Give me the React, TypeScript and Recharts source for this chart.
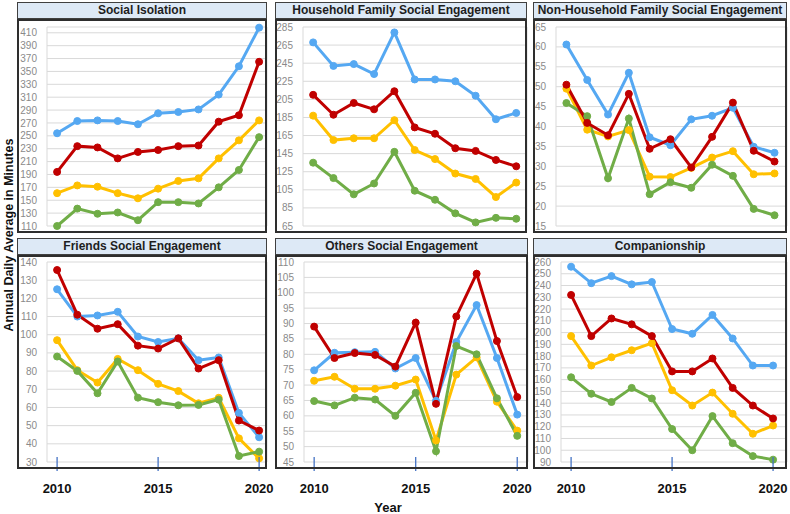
import React from 'react';
import { LineChart, Line, XAxis, YAxis, CartesianGrid } from 'recharts';

const years = [2010, 2011, 2012, 2013, 2014, 2015, 2016, 2017, 2018, 2019, 2020];
const gridTicks = [2009.5, 2010.5, 2011.5, 2012.5, 2013.5, 2014.5, 2015.5, 2016.5, 2017.5, 2018.5, 2019.5];
const yearLabels = [2010, 2015, 2020];

const isolationBlue = [254, 273, 274, 273, 268, 285, 287, 291, 314, 358, 418];
const isolationRed = [194, 234, 232, 215, 225, 228, 234, 235, 272, 282, 365];
const isolationYellow = [161, 173, 171, 161, 153, 168, 180, 184, 215, 243, 274];
const isolationGreen = [110, 137, 129, 131, 119, 147, 147, 145, 170, 197, 248];
const isolationTicks = [110, 130, 150, 170, 190, 210, 230, 250, 270, 290, 310, 330, 350, 370, 390, 410];

const householdBlue = [268, 242, 244, 233, 279, 227, 227, 225, 209, 183, 190];
const householdRed = [210, 188, 201, 194, 214, 174, 167, 151, 148, 138, 131];
const householdYellow = [187, 160, 162, 162, 182, 149, 139, 123, 117, 97, 113];
const householdGreen = [135, 118, 100, 112, 147, 104, 94, 79, 69, 74, 73];
const householdTicks = [65, 85, 105, 125, 145, 165, 185, 205, 225, 245, 265, 285];

const nonHouseholdBlue = [60.6, 51.7, 43, 53.5, 37.3, 35.3, 41.8, 42.7, 44.7, 34.9, 33.4];
const nonHouseholdRed = [50.5, 40.9, 37.8, 48.2, 34.4, 36.8, 29.7, 37.4, 46, 33.9, 31.2];
const nonHouseholdYellow = [49.5, 39.2, 37.5, 39.1, 27.4, 27.3, 29.6, 32.2, 33.8, 28, 28.2];
const nonHouseholdGreen = [45.9, 42.6, 27, 42, 23, 26, 24.6, 30.4, 27.6, 19.3, 17.7];
const nonHouseholdTicks = [15, 20, 25, 30, 35, 40, 45, 50, 55, 60, 65];

const friendsBlue = [125, 110, 110.6, 112.6, 99, 96, 98, 86, 87.5, 57, 43.6];
const friendsRed = [135.6, 111, 103.3, 105.8, 94, 92.4, 98, 81.4, 86, 52.8, 47.3];
const friendsYellow = [97, 80.5, 73.7, 86.7, 80.5, 73, 69, 62.3, 65.3, 43, 32];
const friendsGreen = [88, 80.1, 67.8, 85.3, 65.4, 62.9, 61.2, 61.4, 64.3, 33.3, 35.7];
const friendsTicks = [30, 40, 50, 60, 70, 80, 90, 100, 110, 120, 130, 140];

const othersBlue = [74.8, 80.5, 80.7, 80.8, 75.4, 78.8, 64.9, 84, 96, 78.8, 60.4];
const othersRed = [89, 78.8, 80.4, 79.8, 76, 90.3, 63.9, 92.3, 106.2, 84.3, 66.1];
const othersYellow = [71.4, 72.7, 68.8, 68.8, 69.8, 71.8, 52, 73.4, 79, 64.6, 55.2];
const othersGreen = [64.8, 63.4, 65.9, 65.3, 60, 67.5, 48.5, 82.7, 80, 65.7, 53.5];
const othersTicks = [45, 50, 55, 60, 65, 70, 75, 80, 85, 90, 95, 100, 105, 110];

const companionBlue = [256, 242, 248, 241, 243, 203, 199, 215, 195, 172, 172];
const companionRed = [232, 197, 212, 207, 197, 167, 167, 178, 153, 138, 127];
const companionYellow = [197, 172, 179, 185, 191, 151, 138, 149, 131, 114, 121];
const companionGreen = [162, 148, 141, 153, 144, 118, 100, 129, 106, 95, 92];
const companionTicks = [90, 100, 110, 120, 130, 140, 150, 160, 170, 180, 190, 200, 210, 220, 230, 240, 250, 260];

const COLORS = { blue: '#55a8f2', red: '#c00000', yellow: '#ffc000', green: '#70ad47' };
const FONT = '"Liberation Sans", Arial, sans-serif';

const YearTick = (props: any) => {
    const { x, y, payload } = props;
    return (
        <g>
            <line x1={x} x2={x} y1={y - 5} y2={y + 9} stroke="#4472c4" strokeWidth={1.3} />
            <text x={x} y={y + 31} textAnchor="middle" fontSize={13} fontWeight="bold" fill="#111" fontFamily={FONT}>
                {payload.value}
            </text>
        </g>
    );
};

interface PanelProps {
    title: string;
    left: number;
    top: number;
    width: number;
    axisW: number;
    xMax: number;
    yDomain: [number, number];
    yTicks: number[];
    blue: number[];
    red: number[];
    yellow: number[];
    green: number[];
    bottom?: boolean;
}

function Panel({ title, left, top, width, axisW, xMax, yDomain, yTicks, blue, red, yellow, green, bottom }: PanelProps) {
    const rows = years.map((year, i) => ({ year, blue: blue[i], red: red[i], yellow: yellow[i], green: green[i] }));
    const titleH = 17;
    const boxH = 214;
    const chartH = bottom ? 240 : boxH;
    const order: (keyof typeof COLORS)[] = ['yellow', 'blue', 'green', 'red'];

    return (
        <>
            <div
                style={{
                    position: 'absolute',
                    left,
                    top,
                    width,
                    height: titleH,
                    boxSizing: 'border-box',
                    border: '1px solid #404040',
                    background: '#dde9f6',
                    textAlign: 'center',
                    font: `bold 12px ${FONT}`,
                    lineHeight: `${titleH - 2}px`,
                    color: '#1e1e1e',
                    whiteSpace: 'nowrap',
                }}
            >
                {title}
            </div>
            <div style={{ position: 'absolute', left, top: top + titleH }}>
                <LineChart
                    width={width}
                    height={chartH}
                    data={rows}
                    margin={{ top: bottom ? 7 : 8, right: 0, bottom: bottom ? 0 : 7, left: 0 }}
                >
                    <CartesianGrid stroke="#d9d9d9" strokeWidth={1} />
                    <XAxis
                        dataKey="year"
                        type="number"
                        domain={[2009.5, xMax]}
                        ticks={gridTicks}
                        interval={0}
                        tick={false}
                        axisLine={false}
                        tickLine={false}
                        height={0}
                    />
                    {bottom && (
                        <XAxis
                            xAxisId="yr"
                            dataKey="year"
                            type="number"
                            domain={[2009.5, xMax]}
                            ticks={yearLabels}
                            interval={0}
                            tick={<YearTick />}
                            axisLine={false}
                            tickLine={false}
                            tickSize={0}
                            tickMargin={0}
                            height={33}
                        />
                    )}
                    <YAxis
                        width={axisW}
                        domain={yDomain}
                        ticks={yTicks}
                        interval={0}
                        axisLine={false}
                        tickLine={false}
                        tickSize={0}
                        tickMargin={10}
                        tick={{ fill: '#8a8a8a', fontSize: 10, fontFamily: FONT }}
                    />
                    {order.map((key) => (
                        <Line
                            key={key}
                            dataKey={key}
                            stroke={COLORS[key]}
                            strokeWidth={3}
                            dot={{ r: 3.5, fill: COLORS[key], stroke: COLORS[key], strokeWidth: 1 }}
                            activeDot={false}
                            isAnimationActive={false}
                        />
                    ))}
                </LineChart>
            </div>
            <div
                style={{
                    position: 'absolute',
                    left,
                    top: top + titleH,
                    width,
                    height: boxH,
                    boxSizing: 'border-box',
                    border: '2px solid #2e2e2e',
                    pointerEvents: 'none',
                }}
            />
        </>
    );
}

export default function App() {
    return (
        <div style={{ position: 'absolute', left: 0, top: 0, width: 790, height: 514, background: '#fff', fontFamily: FONT }}>
            <style>{'.recharts-surface { overflow: visible; } .recharts-wrapper { overflow: visible; }'}</style>
            <Panel title="Social Isolation" left={17} top={2} width={250} axisW={30} xMax={2020.39}
                yDomain={[110, 419]} yTicks={isolationTicks}
                blue={isolationBlue} red={isolationRed} yellow={isolationYellow} green={isolationGreen} />
            <Panel title="Household Family Social Engagement" left={275} top={2} width={252} axisW={28} xMax={2020.53}
                yDomain={[65, 285]} yTicks={householdTicks}
                blue={householdBlue} red={householdRed} yellow={householdYellow} green={householdGreen} />
            <Panel title="Non-Household Family Social Engagement" left={533} top={2} width={254} axisW={23} xMax={2020.6}
                yDomain={[15, 65]} yTicks={nonHouseholdTicks}
                blue={nonHouseholdBlue} red={nonHouseholdRed} yellow={nonHouseholdYellow} green={nonHouseholdGreen} />
            <Panel title="Friends Social Engagement" left={17} top={238} width={250} axisW={30} xMax={2020.39}
                yDomain={[30, 140]} yTicks={friendsTicks} bottom
                blue={friendsBlue} red={friendsRed} yellow={friendsYellow} green={friendsGreen} />
            <Panel title="Others Social Engagement" left={275} top={238} width={253} axisW={29} xMax={2020.53}
                yDomain={[45, 110]} yTicks={othersTicks} bottom
                blue={othersBlue} red={othersRed} yellow={othersYellow} green={othersGreen} />
            <Panel title="Companionship" left={533} top={238} width={254} axisW={28} xMax={2020.69}
                yDomain={[90, 260]} yTicks={companionTicks} bottom
                blue={companionBlue} red={companionRed} yellow={companionYellow} green={companionGreen} />
            <div
                style={{
                    position: 'absolute',
                    left: 9,
                    top: 235,
                    transform: 'translate(-50%, -50%) rotate(-90deg)',
                    font: `bold 12.5px ${FONT}`,
                    color: '#111',
                    whiteSpace: 'nowrap',
                }}
            >
                Annual Daily Average in Minutes
            </div>
            <div
                style={{
                    position: 'absolute',
                    left: 388,
                    top: 507,
                    transform: 'translate(-50%, -50%)',
                    font: `bold 13px ${FONT}`,
                    color: '#111',
                }}
            >
                Year
            </div>
        </div>
    );
}
